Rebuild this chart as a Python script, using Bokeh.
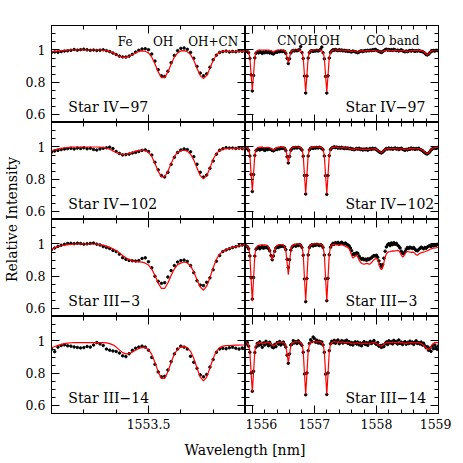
from bokeh.plotting import figure
from bokeh.models import Range1d, LinearAxis, FixedTicker, Label, GridBox, CustomJSTickFormatter, ColumnDataSource
from bokeh.embed import file_html
from bokeh.resources import INLINE

# ---------------- data ----------------
stars = ["Star IV\u221297", "Star IV\u2212102", "Star III\u22123", "Star III\u221214"]

# wavelength sampling of the spectra [nm]
wl_left = [round(1553.20 + 0.01 * k, 2) for k in range(61)]
wl_right = [round(1555.90 + 0.02 * k, 2) for k in range(156)]

# tick values
x_left_major = [1553.5]
x_left_minor = [1553.3, 1553.4, 1553.6, 1553.7]
x_right_major = [1556, 1557, 1558, 1559]
x_right_minor = [1556.2, 1556.4, 1556.6, 1556.8, 1557.2, 1557.4, 1557.6, 1557.8,
                 1558.2, 1558.4, 1558.6, 1558.8]
y_major = [0.6, 0.8, 1.0]
y_minor = [0.65, 0.7, 0.75, 0.85, 0.9, 0.95, 1.05, 1.1, 1.15]

# line identifications (top row)
ids_left = ["Fe", "OH", "OH+CN"]
ids_left_wl = [1553.428, 1553.545, 1553.70]
ids_right = ["CN", "OH", "OH", "CO band"]
ids_right_wl = [1556.56, 1556.895, 1557.25, 1558.264]

# ----- left column: observed (o) and model (m) -----
o1L = [0.985, 0.988, 0.986, 0.990, 0.993, 0.995, 0.998, 1.003, 0.999, 1.002,
       1.005, 1.001, 0.998, 1.000, 0.997, 0.999, 1.001, 0.996, 0.990, 0.981,
       0.972, 0.962, 0.957, 0.956, 0.962, 0.973, 0.987, 0.998, 1.006, 1.008,
       1.002, 0.975, 0.931, 0.878, 0.840, 0.836, 0.868, 0.921, 0.966, 0.996,
       1.010, 1.012, 1.004, 0.985, 0.949, 0.898, 0.857, 0.840, 0.852, 0.893,
       0.939, 0.968, 0.985, 0.990, 0.993, 0.988, 0.991, 0.989, 0.994, 0.992,
       0.996]
m1L = [0.990, 0.992, 0.994, 0.996, 0.998, 0.999, 1.000, 1.000, 1.000, 1.000,
       1.000, 1.000, 1.000, 1.000, 1.000, 1.000, 0.998, 0.996, 0.991, 0.982,
       0.971, 0.961, 0.954, 0.954, 0.961, 0.971, 0.982, 0.991, 0.995, 0.992,
       0.982, 0.956, 0.913, 0.864, 0.829, 0.829, 0.864, 0.913, 0.956, 0.982,
       0.994, 0.996, 0.989, 0.971, 0.936, 0.887, 0.841, 0.822, 0.841, 0.887,
       0.936, 0.969, 0.986, 0.993, 0.992, 0.991, 0.990, 0.990, 0.990, 0.990,
       0.990]
o2L = [0.968, 0.975, 0.979, 0.984, 0.987, 0.990, 0.992, 0.988, 0.993, 0.991,
       0.995, 0.989, 0.992, 0.985, 0.981, 0.988, 0.992, 0.995, 0.999, 0.990,
       0.972, 0.960, 0.951, 0.953, 0.956, 0.962, 0.966, 0.972, 0.979, 0.982,
       0.972, 0.950, 0.905, 0.858, 0.823, 0.814, 0.843, 0.892, 0.936, 0.966,
       0.981, 0.988, 0.984, 0.970, 0.940, 0.893, 0.843, 0.814, 0.826, 0.868,
       0.913, 0.955, 0.980, 0.989, 0.996, 0.993, 0.994, 0.991, 0.993, 0.990,
       0.992]
m2L = [0.978, 0.983, 0.988, 0.992, 0.995, 0.997, 0.999, 1.000, 1.000, 1.000,
       1.000, 1.000, 1.000, 1.000, 1.000, 0.999, 0.997, 0.993, 0.986, 0.976,
       0.966, 0.958, 0.954, 0.955, 0.960, 0.967, 0.974, 0.979, 0.982, 0.978,
       0.966, 0.941, 0.898, 0.849, 0.815, 0.815, 0.849, 0.898, 0.941, 0.966,
       0.978, 0.980, 0.974, 0.955, 0.919, 0.869, 0.822, 0.802, 0.822, 0.869,
       0.924, 0.960, 0.979, 0.987, 0.990, 0.991, 0.991, 0.992, 0.992, 0.992,
       0.992]
o3L = [0.966, 0.975, 0.985, 0.992, 0.998, 1.003, 1.004, 1.002, 1.005, 1.003,
       0.999, 1.001, 1.004, 1.006, 0.999, 0.994, 0.984, 0.978, 0.972, 0.960,
       0.953, 0.937, 0.915, 0.905, 0.898, 0.896, 0.894, 0.897, 0.910, 0.914,
       0.890, 0.852, 0.800, 0.768, 0.756, 0.760, 0.795, 0.835, 0.866, 0.888,
       0.897, 0.900, 0.892, 0.866, 0.822, 0.772, 0.745, 0.742, 0.762, 0.790,
       0.840, 0.893, 0.928, 0.953, 0.963, 0.970, 0.978, 0.983, 0.989, 0.993,
       0.996]
m3L = [0.968, 0.976, 0.983, 0.989, 0.993, 0.996, 0.998, 0.999, 1.000, 1.000,
       1.000, 1.000, 1.000, 1.000, 0.999, 0.997, 0.993, 0.987, 0.979, 0.970,
       0.960, 0.946, 0.929, 0.914, 0.903, 0.895, 0.891, 0.889, 0.887, 0.881,
       0.869, 0.844, 0.804, 0.757, 0.724, 0.724, 0.758, 0.805, 0.846, 0.872,
       0.881, 0.888, 0.882, 0.864, 0.828, 0.778, 0.733, 0.713, 0.738, 0.791,
       0.853, 0.905, 0.937, 0.955, 0.965, 0.973, 0.979, 0.984, 0.988, 0.992,
       0.995]
o4L = [0.948, 0.934, 0.962, 0.972, 0.976, 0.970, 0.968, 0.963, 0.960, 0.957,
       0.959, 0.966, 0.962, 0.975, 0.990, 0.982, 0.972, 0.950, 0.943, 0.938,
       0.935, 0.925, 0.908, 0.903, 0.921, 0.942, 0.955, 0.962, 0.968, 0.962,
       0.943, 0.898, 0.855, 0.808, 0.778, 0.781, 0.820, 0.872, 0.920, 0.950,
       0.968, 0.962, 0.950, 0.905, 0.868, 0.830, 0.790, 0.778, 0.792, 0.838,
       0.885, 0.930, 0.950, 0.955, 0.952, 0.958, 0.961, 0.955, 0.950, 0.957,
       0.953]
m4L = [0.958, 0.966, 0.973, 0.979, 0.984, 0.987, 0.989, 0.990, 0.990, 0.990,
       0.990, 0.990, 0.990, 0.990, 0.990, 0.990, 0.990, 0.988, 0.984, 0.976,
       0.962, 0.945, 0.928, 0.920, 0.922, 0.931, 0.943, 0.954, 0.959, 0.959,
       0.946, 0.917, 0.867, 0.808, 0.768, 0.768, 0.809, 0.868, 0.919, 0.949,
       0.963, 0.965, 0.959, 0.936, 0.893, 0.832, 0.776, 0.752, 0.776, 0.832,
       0.893, 0.936, 0.959, 0.968, 0.971, 0.972, 0.973, 0.974, 0.974, 0.975,
       0.975]

# ----- right column: observed (o) and model (m) -----
o1R = [0.995, 0.990, 0.983, 0.948, 0.846, 0.746, 0.842, 0.951, 0.980, 0.986,
       0.982, 0.990, 0.985, 0.979, 0.988, 0.983, 0.991, 0.984, 0.987, 0.981,
       0.985, 0.978, 0.975, 0.983, 0.988, 0.986, 0.992, 0.989, 0.994, 0.990,
       0.993, 0.990, 0.979, 0.948, 0.916, 0.945, 0.982, 0.993, 0.997, 0.994,
       0.998, 0.995, 0.999, 1.002, 1.021, 0.984, 0.947, 0.838, 0.733, 0.838,
       0.950, 0.983, 0.993, 0.996, 0.991, 0.995, 0.993, 0.998, 0.994, 0.997,
       1.004, 1.018, 0.983, 0.945, 0.836, 0.733, 0.840, 0.950, 0.985, 0.995,
       1.001, 0.998, 1.003, 0.999, 0.996, 1.001, 0.997, 1.000, 0.995, 0.998,
       0.993, 0.996, 0.991, 0.995, 0.990, 0.988, 0.993, 0.991, 0.989, 0.986,
       0.983, 0.988, 0.992, 0.995, 0.990, 0.994, 0.997, 0.993, 0.998, 0.995,
       0.999, 0.996, 1.002, 0.997, 1.004, 0.999, 0.995, 0.991, 0.988, 0.985,
       0.990, 0.996, 1.001, 1.005, 0.999, 1.003, 0.998, 1.002, 0.997, 1.004,
       1.000, 0.996, 0.999, 0.994, 0.997, 1.001, 0.995, 0.992, 0.989, 0.993,
       0.990, 0.994, 0.997, 0.993, 0.998, 0.995, 0.992, 0.996, 0.993, 0.997,
       0.994, 0.991, 0.990, 0.986, 0.980, 0.972, 0.969, 0.974, 0.983, 0.990,
       0.994, 0.997, 0.993, 0.998, 0.996, 0.999]
m1R = [0.999, 0.996, 0.988, 0.955, 0.850, 0.750, 0.850, 0.955, 0.988, 0.996,
       0.999, 1.000, 1.000, 0.999, 0.999, 1.000, 1.000, 0.999, 0.999, 0.998,
       0.997, 0.993, 0.986, 0.993, 0.997, 0.999, 1.000, 1.000, 1.000, 0.999,
       0.999, 0.996, 0.986, 0.952, 0.920, 0.952, 0.986, 0.996, 0.999, 1.000,
       1.000, 1.000, 1.000, 0.999, 0.996, 0.987, 0.953, 0.844, 0.740, 0.844,
       0.953, 0.987, 0.996, 0.999, 1.000, 1.000, 1.000, 1.000, 1.000, 1.000,
       0.999, 0.996, 0.987, 0.953, 0.844, 0.740, 0.844, 0.953, 0.987, 0.996,
       0.999, 1.000, 1.000, 0.999, 0.998, 0.998, 0.999, 1.000, 0.999, 0.998,
       0.997, 0.997, 0.998, 0.996, 0.993, 0.991, 0.992, 0.995, 0.994, 0.989,
       0.986, 0.989, 0.994, 0.996, 0.995, 0.993, 0.994, 0.996, 0.997, 0.996,
       0.994, 0.995, 0.997, 0.998, 0.997, 0.995, 0.994, 0.992, 0.989, 0.986,
       0.989, 0.993, 0.996, 0.998, 0.999, 0.998, 0.996, 0.995, 0.996, 0.998,
       0.999, 0.998, 0.996, 0.994, 0.995, 0.997, 0.998, 0.996, 0.993, 0.991,
       0.990, 0.992, 0.995, 0.997, 0.998, 0.997, 0.996, 0.997, 0.998, 0.999,
       0.998, 0.996, 0.994, 0.990, 0.983, 0.975, 0.971, 0.975, 0.984, 0.992,
       0.997, 0.999, 1.000, 1.000, 0.999, 0.998]
o2R = [0.994, 0.990, 0.979, 0.944, 0.830, 0.724, 0.829, 0.947, 0.978, 0.983,
       0.988, 0.981, 0.986, 0.992, 0.984, 0.979, 0.988, 0.983, 0.990, 0.986,
       0.984, 0.979, 0.976, 0.981, 0.987, 0.984, 0.992, 0.988, 0.995, 0.991,
       0.994, 0.991, 0.978, 0.939, 0.901, 0.941, 0.980, 0.990, 0.996, 0.993,
       0.997, 0.994, 0.998, 0.995, 0.990, 0.981, 0.943, 0.823, 0.708, 0.824,
       0.944, 0.982, 0.992, 0.995, 0.991, 0.996, 0.993, 0.997, 0.994, 0.998,
       0.995, 0.991, 0.983, 0.944, 0.822, 0.706, 0.823, 0.946, 0.984, 0.993,
       0.997, 1.001, 0.996, 0.999, 0.993, 0.997, 0.992, 0.998, 0.994, 0.990,
       0.995, 0.991, 0.993, 0.989, 0.992, 0.986, 0.988, 0.983, 0.986, 0.991,
       0.987, 0.992, 0.984, 0.988, 0.981, 0.987, 0.983, 0.989, 0.980, 0.986,
       0.990, 0.985, 0.992, 0.988, 0.991, 0.983, 0.978, 0.971, 0.966, 0.963,
       0.968, 0.976, 0.983, 0.991, 0.987, 0.993, 0.988, 0.992, 0.986, 0.990,
       0.994, 0.987, 0.991, 0.984, 0.989, 0.992, 0.986, 0.983, 0.980, 0.985,
       0.982, 0.989, 0.986, 0.993, 0.988, 0.991, 0.985, 0.990, 0.987, 0.992,
       0.985, 0.982, 0.978, 0.970, 0.965, 0.958, 0.957, 0.962, 0.970, 0.981,
       0.988, 0.992, 0.995, 0.991, 0.996, 0.993]
m2R = [0.998, 0.995, 0.986, 0.951, 0.836, 0.727, 0.836, 0.951, 0.986, 0.995,
       0.998, 0.999, 0.999, 0.998, 0.997, 0.996, 0.997, 0.998, 0.997, 0.995,
       0.992, 0.986, 0.980, 0.986, 0.992, 0.996, 0.998, 0.999, 0.999, 0.999,
       0.998, 0.995, 0.983, 0.943, 0.905, 0.943, 0.983, 0.995, 0.998, 0.999,
       1.000, 1.000, 0.999, 0.998, 0.996, 0.986, 0.948, 0.826, 0.710, 0.826,
       0.948, 0.986, 0.996, 0.998, 0.999, 0.999, 1.000, 1.000, 0.999, 0.999,
       0.998, 0.996, 0.986, 0.948, 0.826, 0.710, 0.826, 0.948, 0.986, 0.996,
       0.998, 0.999, 0.999, 0.998, 0.996, 0.995, 0.996, 0.997, 0.996, 0.994,
       0.993, 0.994, 0.995, 0.993, 0.990, 0.987, 0.985, 0.984, 0.987, 0.990,
       0.991, 0.989, 0.987, 0.985, 0.984, 0.985, 0.986, 0.985, 0.984, 0.985,
       0.986, 0.988, 0.989, 0.990, 0.988, 0.985, 0.980, 0.974, 0.968, 0.966,
       0.970, 0.978, 0.985, 0.989, 0.990, 0.991, 0.990, 0.989, 0.990, 0.991,
       0.991, 0.990, 0.988, 0.987, 0.988, 0.990, 0.989, 0.986, 0.984, 0.983,
       0.985, 0.988, 0.990, 0.991, 0.990, 0.989, 0.988, 0.989, 0.990, 0.989,
       0.987, 0.984, 0.980, 0.975, 0.968, 0.962, 0.960, 0.963, 0.972, 0.983,
       0.990, 0.994, 0.996, 0.997, 0.997, 0.996]
o3R = [0.988, 0.983, 0.970, 0.926, 0.790, 0.658, 0.792, 0.925, 0.968, 0.975,
       0.982, 0.970, 0.978, 0.985, 0.974, 0.981, 0.977, 0.983, 0.972, 0.958,
       0.928, 0.902, 0.925, 0.955, 0.975, 0.982, 0.978, 0.988, 0.984, 0.990,
       0.985, 0.982, 0.965, 0.905, 0.855, 0.902, 0.962, 0.980, 0.988, 0.992,
       0.986, 0.994, 0.990, 0.996, 0.992, 0.978, 0.930, 0.783, 0.642, 0.786,
       0.932, 0.978, 0.990, 0.995, 0.988, 0.996, 0.992, 0.998, 0.994, 0.990,
       0.996, 0.991, 0.978, 0.931, 0.784, 0.648, 0.787, 0.933, 0.980, 0.994,
       1.004, 0.998, 1.008, 1.002, 1.010, 0.999, 1.005, 1.011, 1.003, 0.998,
       1.006, 0.999, 0.994, 0.988, 0.975, 0.958, 0.935, 0.940, 0.933, 0.945,
       0.942, 0.925, 0.913, 0.905, 0.910, 0.902, 0.906, 0.899, 0.908, 0.903,
       0.910, 0.915, 0.922, 0.928, 0.925, 0.930, 0.918, 0.895, 0.872, 0.860,
       0.872, 0.912, 0.955, 0.982, 0.995, 1.002, 0.990, 1.006, 0.996, 1.008,
       0.999, 1.004, 0.993, 0.986, 0.975, 0.955, 0.943, 0.940, 0.952, 0.968,
       0.978, 0.972, 0.980, 0.975, 0.973, 0.978, 0.968, 0.960, 0.958, 0.965,
       0.972, 0.980, 0.975, 0.970, 0.978, 0.974, 0.981, 0.986, 0.990, 0.985,
       0.992, 0.988, 0.996, 0.991, 0.998, 0.994]
m3R = [0.990, 0.987, 0.975, 0.930, 0.784, 0.645, 0.784, 0.930, 0.975, 0.987,
       0.991, 0.993, 0.994, 0.995, 0.995, 0.994, 0.993, 0.990, 0.982, 0.965,
       0.932, 0.902, 0.928, 0.962, 0.982, 0.991, 0.995, 0.997, 0.997, 0.996,
       0.992, 0.984, 0.960, 0.885, 0.810, 0.885, 0.960, 0.986, 0.995, 0.998,
       0.999, 1.000, 1.000, 0.999, 0.995, 0.982, 0.937, 0.789, 0.648, 0.789,
       0.937, 0.982, 0.995, 0.999, 1.000, 1.000, 1.000, 1.000, 1.000, 0.999,
       0.999, 0.995, 0.982, 0.937, 0.789, 0.648, 0.789, 0.937, 0.982, 0.995,
       0.998, 0.999, 0.998, 0.996, 0.994, 0.993, 0.995, 0.996, 0.994, 0.990,
       0.985, 0.982, 0.978, 0.970, 0.952, 0.930, 0.913, 0.918, 0.928, 0.931,
       0.918, 0.900, 0.888, 0.880, 0.876, 0.875, 0.877, 0.880, 0.878, 0.875,
       0.877, 0.883, 0.895, 0.902, 0.908, 0.910, 0.900, 0.878, 0.852, 0.840,
       0.852, 0.885, 0.918, 0.938, 0.948, 0.952, 0.953, 0.955, 0.957, 0.956,
       0.957, 0.958, 0.960, 0.958, 0.948, 0.932, 0.920, 0.924, 0.938, 0.950,
       0.953, 0.952, 0.949, 0.948, 0.950, 0.948, 0.942, 0.932, 0.930, 0.936,
       0.942, 0.946, 0.948, 0.950, 0.952, 0.955, 0.958, 0.962, 0.966, 0.970,
       0.972, 0.974, 0.975, 0.976, 0.978, 0.980]
o4R = [0.982, 0.990, 0.968, 0.930, 0.802, 0.688, 0.812, 0.928, 0.962, 0.985,
       0.972, 0.995, 0.978, 0.961, 0.988, 0.975, 0.998, 0.983, 0.970, 0.992,
       0.976, 0.962, 0.958, 0.978, 0.965, 0.990, 0.981, 0.997, 0.975, 0.986,
       0.993, 0.978, 0.962, 0.912, 0.862, 0.920, 0.975, 0.981, 1.002, 0.988,
       0.995, 0.984, 1.001, 0.990, 0.983, 0.972, 0.930, 0.795, 0.666, 0.802,
       0.940, 0.985, 1.008, 0.996, 1.024, 1.015, 0.992, 1.005, 0.988, 0.999,
       0.985, 0.994, 0.975, 0.930, 0.794, 0.668, 0.802, 0.940, 0.983, 0.998,
       0.990, 1.004, 0.986, 0.998, 1.006, 0.983, 0.995, 1.002, 0.987, 0.999,
       0.992, 1.005, 0.985, 0.996, 0.978, 0.990, 0.975, 0.988, 0.995, 0.981,
       0.993, 0.976, 0.988, 0.970, 0.985, 0.996, 0.979, 0.990, 0.973, 0.987,
       0.998, 0.984, 0.992, 1.003, 0.986, 0.979, 0.990, 0.968, 0.972, 0.960,
       0.975, 0.965, 0.983, 0.994, 0.978, 1.001, 0.988, 0.996, 0.982, 1.004,
       0.990, 0.997, 0.981, 1.006, 0.985, 0.993, 0.978, 0.989, 0.996, 0.980,
       0.991, 0.984, 0.999, 0.987, 0.994, 0.979, 0.992, 1.001, 0.985, 0.990,
       0.982, 0.993, 0.975, 0.986, 0.970, 0.958, 0.965, 0.942, 0.955, 0.936,
       0.968, 0.952, 0.975, 0.960, 0.948, 0.970]
m4R = [0.990, 0.985, 0.975, 0.935, 0.807, 0.685, 0.807, 0.935, 0.975, 0.985,
       0.989, 0.991, 0.989, 0.985, 0.983, 0.986, 0.990, 0.992, 0.991, 0.987,
       0.982, 0.974, 0.968, 0.974, 0.982, 0.988, 0.991, 0.993, 0.993, 0.992,
       0.991, 0.986, 0.970, 0.917, 0.867, 0.917, 0.970, 0.986, 0.991, 0.993,
       0.994, 0.995, 0.995, 0.994, 0.990, 0.979, 0.936, 0.799, 0.669, 0.799,
       0.936, 0.979, 0.990, 0.994, 0.995, 0.995, 0.995, 0.995, 0.995, 0.994,
       0.994, 0.990, 0.979, 0.936, 0.799, 0.669, 0.799, 0.936, 0.979, 0.990,
       0.994, 0.995, 0.995, 0.994, 0.993, 0.992, 0.993, 0.994, 0.993, 0.991,
       0.990, 0.991, 0.992, 0.990, 0.987, 0.984, 0.983, 0.984, 0.987, 0.989,
       0.988, 0.985, 0.983, 0.982, 0.984, 0.986, 0.987, 0.985, 0.983, 0.984,
       0.986, 0.988, 0.989, 0.990, 0.988, 0.985, 0.980, 0.975, 0.970, 0.968,
       0.971, 0.978, 0.985, 0.989, 0.991, 0.992, 0.991, 0.990, 0.991, 0.992,
       0.992, 0.991, 0.989, 0.988, 0.989, 0.991, 0.990, 0.987, 0.985, 0.984,
       0.986, 0.988, 0.990, 0.991, 0.990, 0.989, 0.988, 0.989, 0.990, 0.989,
       0.987, 0.984, 0.980, 0.974, 0.966, 0.958, 0.951, 0.947, 0.952, 0.965,
       0.978, 0.986, 0.990, 0.991, 0.990, 0.988]

obs_left = [o1L, o2L, o3L, o4L]
mod_left = [m1L, m2L, m3L, m4L]
obs_right = [o1R, o2R, o3R, o4R]
mod_right = [m1R, m2R, m3R, m4R]

for arr in obs_left + mod_left:
    assert len(arr) == len(wl_left), len(arr)
for arr in obs_right + mod_right:
    assert len(arr) == len(wl_right), len(arr)

# ---------------- layout / style ----------------
FONT = "DejaVu Serif"
XL = (1553.2, 1553.8)
XR = (1555.89, 1559.0)
YR = (0.55, 1.152)
YW = 22          # y-label strip
LB = 28          # left border of left panels
RB = 13          # right border of right panels
TB = 25          # top border of first row
BB = 22          # bottom border of last row
FW_L, FW_R, FH = 195, 193, 97
XH = 25


def tick_only_axes(p, side, majors, minors):
    """inward ticks without any labels: two axes, one per tick length"""
    for vals, length in ((minors, 4), (majors, 8)):
        ax = LinearAxis(ticker=FixedTicker(ticks=[], minor_ticks=vals))
        ax.axis_line_color = "black"
        ax.major_tick_line_color = None
        ax.major_tick_in = 0
        ax.major_tick_out = 0
        ax.minor_tick_in = length
        ax.minor_tick_out = 0
        ax.minor_tick_line_color = "black"
        ax.major_label_standoff = 0
        p.add_layout(ax, side)


def labelled_axis(p, side, majors, minors, code, standoff):
    ax = LinearAxis(ticker=FixedTicker(ticks=majors, minor_ticks=minors),
                    formatter=CustomJSTickFormatter(code=code))
    ax.axis_line_color = "black"
    ax.major_tick_in = 8
    ax.major_tick_out = 0
    ax.minor_tick_in = 4
    ax.minor_tick_out = 0
    ax.major_tick_line_color = "black"
    ax.minor_tick_line_color = "black"
    ax.major_label_text_font = FONT
    ax.major_label_text_font_size = "12.5px"
    ax.major_label_text_color = "black"
    ax.major_label_standoff = standoff
    p.add_layout(ax, side)


def make_panel(row, col):
    left = col == 0
    w = (LB + FW_L) if left else (FW_R + RB)
    h = FH + (TB if row == 0 else 0) + (BB if row == 3 else 0)
    p = figure(width=w, height=h, x_range=Range1d(*(XL if left else XR)), y_range=Range1d(*YR),
               output_backend="svg", toolbar_location=None, title=None,
               x_axis_location=None, y_axis_location=None,
               min_border_left=LB if left else 0, min_border_right=0 if left else RB,
               min_border_top=TB if row == 0 else 0, min_border_bottom=BB if row == 3 else 0)
    p.grid.visible = False
    p.outline_line_color = "black"
    p.outline_line_width = 1
    p.background_fill_color = "white"
    p.border_fill_color = "white"

    xmaj = x_left_major if left else x_right_major
    xmin = x_left_minor if left else x_right_minor
    if row == 3:
        labelled_axis(p, "below", xmaj, xmin,
                      "return tick.toFixed(1);" if left else "return tick.toFixed(0);", 5)
    else:
        tick_only_axes(p, "below", xmaj, xmin)
    tick_only_axes(p, "above", xmaj, xmin)
    if left:
        labelled_axis(p, "left", y_major, y_minor,
                      "return (Math.round(tick*10)/10).toString();", 6)
    else:
        tick_only_axes(p, "left", y_major, y_minor)
    tick_only_axes(p, "right", y_major, y_minor)

    wl = wl_left if left else wl_right
    obs = (obs_left if left else obs_right)[row]
    mod = (mod_left if left else mod_right)[row]
    src = ColumnDataSource(dict(wl=wl, obs=obs, mod=mod))
    p.scatter("wl", "obs", source=src, marker="circle", size=2.5, color="black")
    p.line("wl", "mod", source=src, line_color="red", line_width=1.2)

    p.add_layout(Label(x=1553.252 if left else 1557.50, y=0.645, text=stars[row],
                       text_font=FONT, text_font_size="14px", text_align="left",
                       text_baseline="middle", text_color="black"))
    if row == 0:
        names, pos, yy = (ids_left, ids_left_wl, 1.050) if left else (ids_right, ids_right_wl, 1.056)
        for t, xw in zip(names, pos):
            p.add_layout(Label(x=xw, y=yy, text=t, text_font=FONT, text_font_size="12px",
                               text_align="center", text_baseline="middle", text_color="black"))
    return p


def label_only_axis(ax, text):
    ax.ticker = FixedTicker(ticks=[], minor_ticks=[])
    ax.axis_label = text
    ax.axis_label_text_font = FONT
    ax.axis_label_text_font_size = "14px"
    ax.axis_label_text_font_style = "normal"
    ax.axis_label_text_color = "black"
    ax.axis_label_standoff = 0
    ax.major_label_standoff = 0
    ax.major_tick_line_color = None
    ax.minor_tick_line_color = None
    ax.axis_line_color = None
    ax.major_tick_out = 0
    ax.minor_tick_out = 0


children = []
for r in range(4):
    for c in range(2):
        children.append((make_panel(r, c), r, c + 1))

# y-axis label strip
ylab = figure(width=YW, height=TB + 4 * FH + BB, x_range=Range1d(0, 1), y_range=Range1d(*YR),
              output_backend="svg", toolbar_location=None, title=None, x_axis_location=None,
              min_border_left=0, min_border_right=0, min_border_top=TB, min_border_bottom=BB)
ylab.grid.visible = False
ylab.outline_line_color = None
label_only_axis(ylab.yaxis[0], "Relative Intensity")
children.append((ylab, 0, 0, 4, 1))

# x-axis label strip
xlab = figure(width=LB + FW_L + FW_R + RB, height=XH, x_range=Range1d(0, 1), y_range=Range1d(0, 1),
              output_backend="svg", toolbar_location=None, title=None, y_axis_location=None,
              min_border_left=LB, min_border_right=RB, min_border_top=0, min_border_bottom=0)
xlab.grid.visible = False
xlab.outline_line_color = None
label_only_axis(xlab.xaxis[0], "Wavelength [nm]")
children.append((xlab, 4, 1, 1, 2))

grid = GridBox(children=children, spacing=0)

open("out.html", "w").write(file_html(grid, INLINE))
